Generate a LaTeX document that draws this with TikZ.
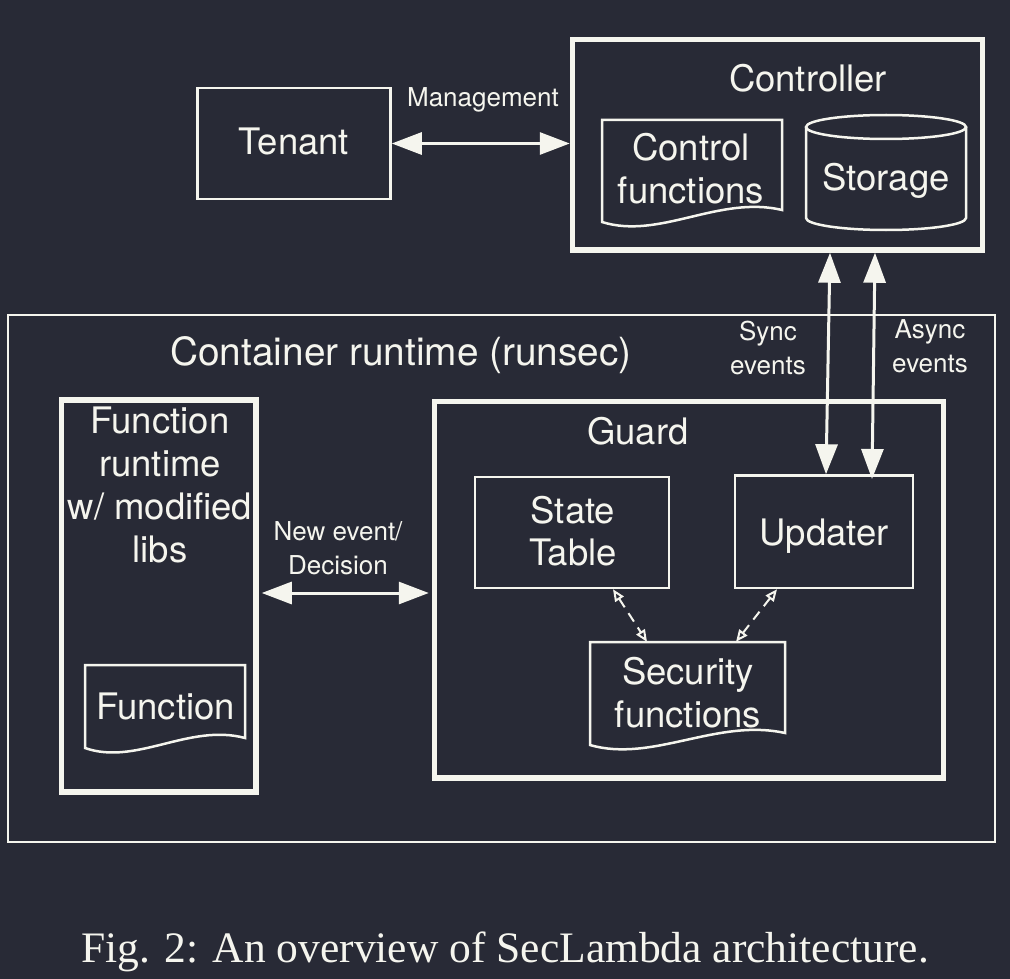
\documentclass[tikz,border=0pt]{standalone}
\usepackage{fontspec}
\setmainfont{TeX Gyre Heros}
\newfontfamily\capfont{Liberation Serif}
\usetikzlibrary{arrows.meta}
\definecolor{bgc}{RGB}{40,42,54}
\definecolor{fgc}{RGB}{245,245,238}
\newcommand\docshape[5]{%
  \draw[thinline] (#1,#2) -- (#3,#2) -- (#3,#5)
    .. controls ({#3-0.35*(#3-#1)},{#5-15}) and ({#1+0.32*(#3-#1)},{#4+18}) .. (#1,#4) -- cycle;}
\tikzset{
  thinline/.style={draw=fgc, line width=2.5pt},
  thinbox/.style={thinline, rectangle, inner sep=0pt},
  thickbox/.style={draw=fgc, line width=5.5pt, rectangle, inner sep=0pt},
  bigtext/.style={text=fgc, inner sep=0pt, align=center, font=\fontsize{36.5}{42.5}\selectfont},
  bigone/.style={text=fgc, inner sep=0pt, font=\fontsize{36.5}{42}\selectfont, text height=26pt, text depth=0pt},
  smalltext/.style={text=fgc, inner sep=0pt, align=center, font=\fontsize{26}{34}\selectfont},
  smallone/.style={text=fgc, inner sep=0pt, font=\fontsize{26}{34}\selectfont, text height=19pt, text depth=0pt},
  bigarrow/.style={draw=fgc, line width=3pt, {Triangle[length=30pt,width=22pt]}-{Triangle[length=30pt,width=22pt]}},
  dasharrow/.style={draw=fgc, line width=2pt, dash pattern=on 10pt off 7pt,
     {Triangle[open,length=12pt,width=10pt]}-{Triangle[open,length=12pt,width=10pt]}},
}
\begin{document}
\begin{tikzpicture}[x=1pt,y=-1pt]
\fill[bgc] (0,0) rectangle (1010,979);
\useasboundingbox (0,0) rectangle (1010,979);

% boxes
\node[thinbox, minimum width=193pt, minimum height=111pt] (tenant) at (294,143.5) {};
\node[bigone] (tenantl) at (294,142) {Tenant};
\node[thickbox, minimum width=410pt, minimum height=210.5pt] (ctrl) at (777.5,144.75) {};
\node[bigone] (ctrll) at (808,78.5) {Controller};

% control functions document
\docshape{602}{120}{782}{222}{210}
\node[bigtext] (cf) at (691,168.5) {Control\\functions};

% storage cylinder
\draw[thinline] (886,127) ellipse [x radius=80, y radius=12];
\draw[thinline] (806,127) -- (806,218)
  .. controls (806,224.6) and (841.8,230) .. (886,230)
  .. controls (930.2,230) and (966,224.6) .. (966,218) -- (966,127);
\node[bigone] (stor) at (886,177.5) {Storage};

\node[smallone] (mgmtl) at (483,97) {Management};
\draw[bigarrow] (tenant.east) -- (tenant.east -| ctrl.west);

% container runtime
\node[thinbox, minimum width=987pt, minimum height=527pt] (cont) at (501.5,578.5) {};
\node[bigone, font=\fontsize{38.8}{44}\selectfont] (contl) at (401,352.5) {Container runtime (runsec)};

% function runtime
\node[thickbox, minimum width=194.5pt, minimum height=392pt] (fr) at (158.75,596) {};
\node[bigtext, font=\fontsize{36.5}{43}\selectfont] (frl) at (160,485) {Function\\runtime\\w/ modified\\libs};
\docshape{85}{665}{245}{748}{738}
\node[bigone] (fn) at (165.5,706.5) {Function};

% guard
\node[thickbox, minimum width=509pt, minimum height=376.5pt] (guard) at (689,589.75) {};
\node[bigone] (guardl) at (638,431.5) {Guard};
\node[thinbox, minimum width=194pt, minimum height=111pt] (state) at (572,532.5) {};
\node[bigtext] (statel) at (573,531) {State\\Table};
\node[thinbox, minimum width=178pt, minimum height=112.5pt] (upd) at (824,531.75) {};
\node[bigone] (updl) at (824,532) {Updater};
\docshape{590}{642}{785}{745}{733}
\node[inner sep=0pt, minimum width=195pt, minimum height=103pt] (secf) at (687.5,693.5) {};
\node[bigtext] (secfl) at (688,692.5) {Security\\functions};

% new event arrow
\node[smalltext] (nel) at (338,548.5) {New event/\\Decision};
\coordinate (ney) at (0,593);
\draw[bigarrow, shorten <=3pt, shorten >=3pt] (fr.east |- ney) -- (guard.west |- ney);

% sync / async
\coordinate (sx1) at (830,0);
\coordinate (sx2) at (826,474.5);
\coordinate (ax1) at (875,0);
\coordinate (ax2) at (872,479);
\draw[bigarrow] (ctrl.south -| sx1) -- (upd.north -| sx2);
\draw[bigarrow] (ctrl.south -| ax1) -- (ax2);
\node[smalltext] (syncl) at (768,347.5) {Sync\\events};
\node[smalltext] (asyncl) at (930,346) {Async\\events};

% dashed arrows
\coordinate (d1) at (613,0);
\coordinate (d2) at (647,0);
\coordinate (d3) at (777,0);
\coordinate (d4) at (736,0);
\draw[dasharrow] (state.south -| d1) -- (secf.north -| d2);
\draw[dasharrow] (upd.south -| d3) -- (secf.north -| d4);

% caption
\node[anchor=base, text=fgc, inner sep=0pt, font=\capfont\fontsize{43.5}{50}\selectfont] (cap) at (505,962)
  {Fig. 2: An overview of SecLambda architecture.};
\end{tikzpicture}
\end{document}
